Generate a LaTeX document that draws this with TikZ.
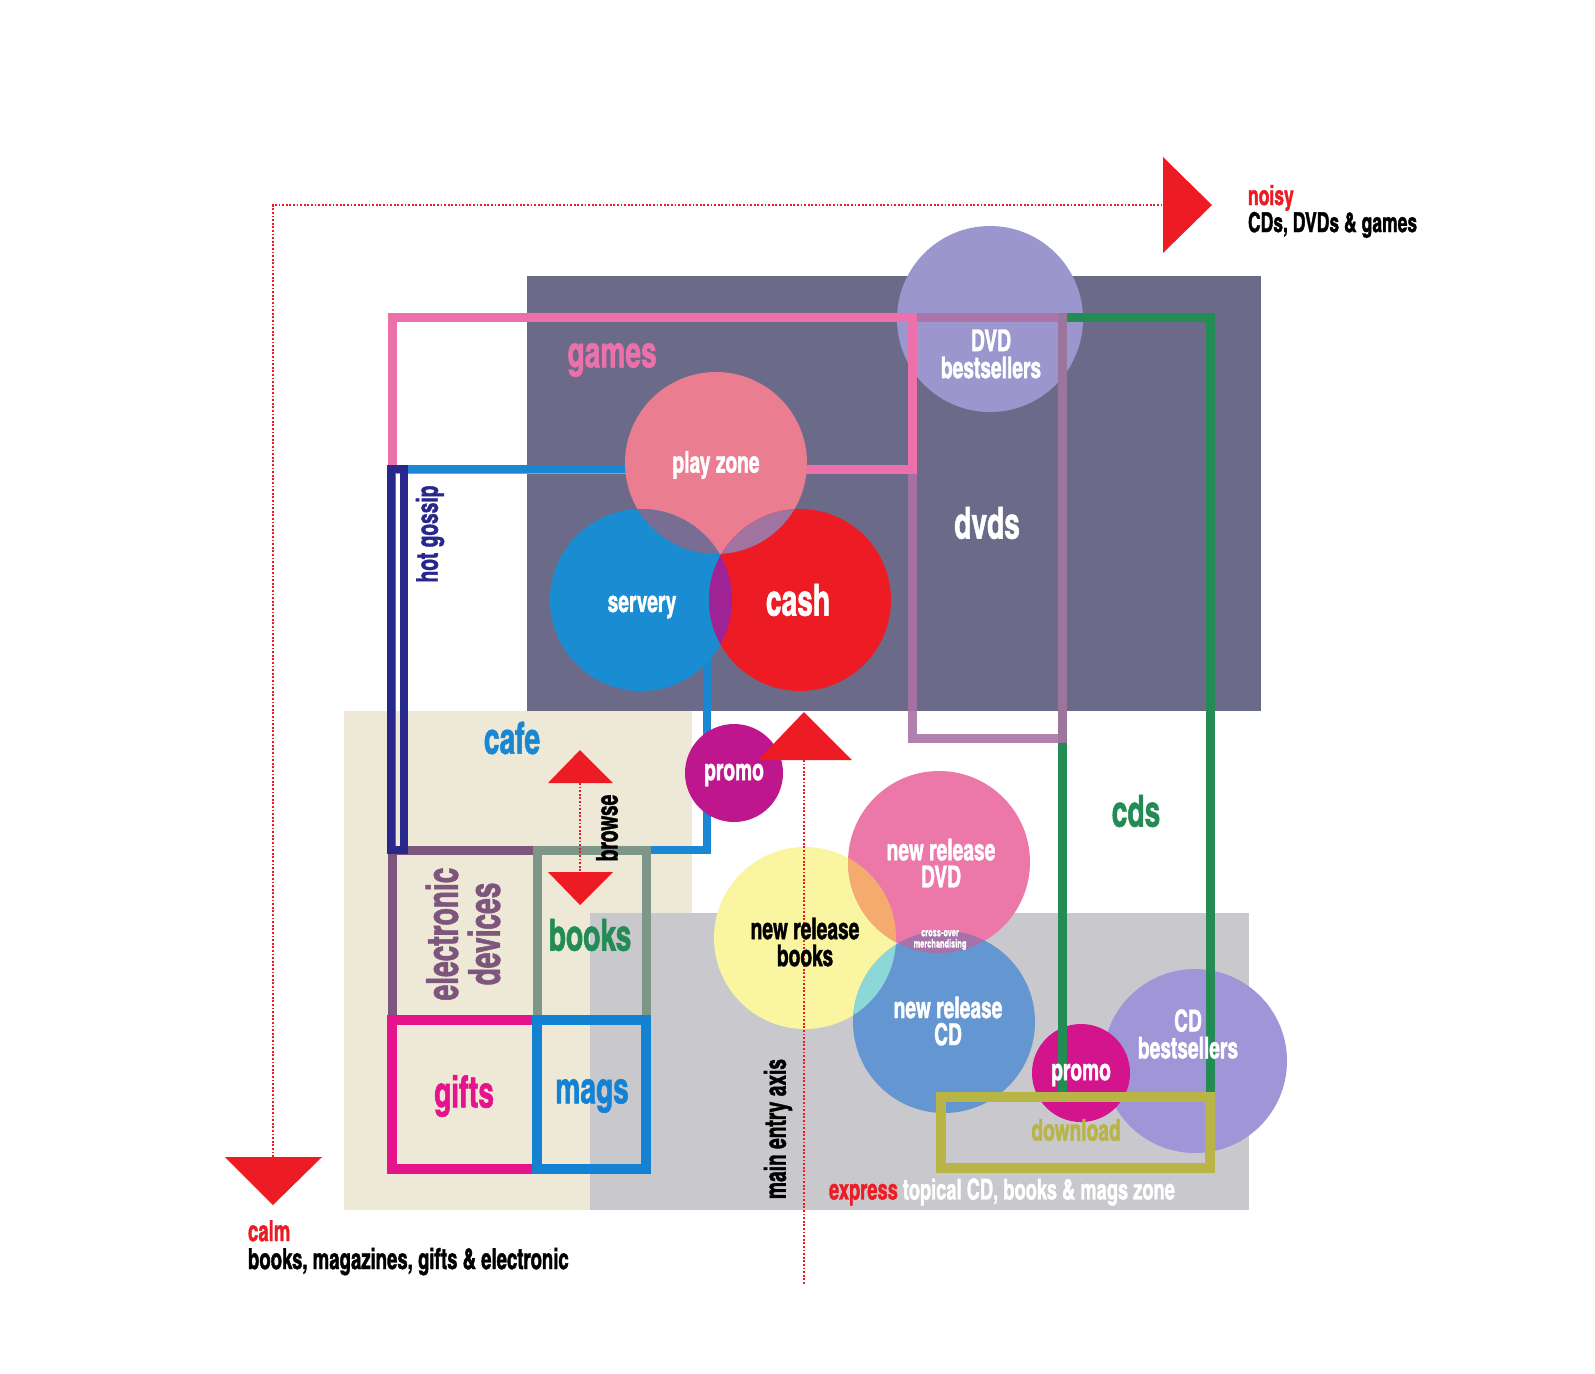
\documentclass[tikz,border=0pt]{standalone}
\usepackage{fontspec}
\newfontfamily\imp[FakeStretch=0.78,FakeBold=1.2]{texgyreheroscn-bold.otf}
\newcommand\fs[2]{\imp\fontsize{#1}{#2}\selectfont}
\definecolor{cDark}{RGB}{107,107,137}
\definecolor{cBeige}{RGB}{237,233,214}
\definecolor{cGray}{RGB}{200,200,205}
\definecolor{cLav}{RGB}{155,150,205}
\definecolor{cLavB}{RGB}{160,150,215}
\definecolor{cPinkLine}{RGB}{236,112,170}
\definecolor{cMauve}{RGB}{170,115,165}
\definecolor{cGreen}{RGB}{35,140,85}
\definecolor{cCafe}{RGB}{25,135,210}
\definecolor{cNavy}{RGB}{40,40,140}
\definecolor{cPurp}{RGB}{125,85,125}
\definecolor{cGrayGreen}{RGB}{125,150,135}
\definecolor{cMag}{RGB}{230,20,140}
\definecolor{cMags}{RGB}{20,130,210}
\definecolor{cOlive}{RGB}{185,180,70}
\definecolor{cRed}{RGB}{237,28,36}
\definecolor{cPlay}{RGB}{235,125,145}
\definecolor{cServ}{RGB}{25,140,210}
\definecolor{cPromoA}{RGB}{190,22,140}
\definecolor{cPromoB}{RGB}{212,20,140}
\definecolor{cNrDvd}{RGB}{236,120,170}
\definecolor{cNrBook}{RGB}{250,245,160}
\definecolor{cNrCd}{RGB}{100,150,210}
\definecolor{cOvPS}{RGB}{120,110,148}
\definecolor{cOvPC}{RGB}{160,115,160}
\definecolor{cOvSC}{RGB}{160,35,150}
\definecolor{cOvBD}{RGB}{245,170,110}
\definecolor{cOvBC}{RGB}{140,215,215}
\definecolor{cOvDC}{RGB}{165,115,170}
\definecolor{cOvBDC}{RGB}{200,160,160}
\begin{document}
\begin{tikzpicture}[x=0.5pt,y=-0.5pt,
  every node/.style={inner sep=0pt,outer sep=0pt},
  zone/.style={line width=4.5pt},
  circ/.style={circle,minimum size=#1pt,draw=none},
  lab/.style={font={\fs{15}{13.5}},text=white,align=center},
  big/.style={font={\fs{22}{21}},align=center},
  dots/.style={cRed,line width=0.9pt,dash pattern=on 0.9pt off 0.9pt},
  tri/.style={fill=cRed}]
\useasboundingbox[fill=white] (0,0) rectangle (1595,1373);

% zones
\fill[cDark] (527,276) rectangle (1261,711);
\fill[cBeige] (344,711) rectangle (692,1210);
\fill[cGray] (590,913) rectangle (1249,1210);

% DVD bestsellers circle
\node[circ=93,fill=cLav] (dvdb) at (990,319) {};

% bottom circles
\node[circ=91,fill=cNrBook] (nrb) at (805,938) {};
\node[circ=91,fill=cNrDvd] (nrd) at (939,862) {};
\node[circ=91,fill=cNrCd] (nrc) at (944,1022) {};
\begin{scope}\clip (nrb.center) circle (91); \fill[cOvBD] (nrd.center) circle (91);\end{scope}
\begin{scope}\clip (nrb.center) circle (91); \fill[cOvBC] (nrc.center) circle (91);\end{scope}
\begin{scope}\clip (nrd.center) circle (91); \fill[cOvDC] (nrc.center) circle (91);\end{scope}
\begin{scope}\clip (nrb.center) circle (91); \clip (nrd.center) circle (91); \fill[cOvBDC] (nrc.center) circle (91);\end{scope}
\node[circ=92,fill=cLavB] (cdb) at (1195,1061) {};
\node[circ=49,fill=cPromoB] (promoB) at (1081,1073) {};

% outline zones
\draw[zone,cGreen] (1062,317) rectangle (1210,1097);
\draw[zone,cMauve,opacity=0.9] (912,317) rectangle (1062,738);
\draw[zone,cPinkLine] (392,317) rectangle (912,469);
\draw[zone,cCafe,line width=4pt] (392,469) rectangle (707,850);
\draw[zone,cPurp] (392,850) rectangle (537,1020);
\draw[zone,cGrayGreen] (537,850) rectangle (646,1020);
\draw[cNavy,line width=4.25pt] (391,469) rectangle (404,850);
\draw[zone,cMag,line width=5pt] (392,1020) rectangle (537,1169);
\draw[zone,cMags,line width=5pt] (537,1020) rectangle (646,1169);
\draw[zone,cOlive,line width=5pt] (941,1097) rectangle (1210,1168);

% top circles
\node[circ=91,fill=cPlay] (play) at (716,463) {};
\node[circ=91,fill=cServ] (serv) at (641,600) {};
\node[circ=91,fill=cRed] (cash) at (800,600) {};
\begin{scope}\clip (play.center) circle (91); \fill[cOvPS] (serv.center) circle (91);\end{scope}
\begin{scope}\clip (play.center) circle (91); \fill[cOvPC] (cash.center) circle (91);\end{scope}
\begin{scope}\clip (serv.center) circle (91); \fill[cOvSC] (cash.center) circle (91);\end{scope}
\node[circ=49,fill=cPromoA] (promoA) at (734,773) {};

% arrows and axes
\fill[tri] (1163,157) -- (1212,205) -- (1163,253) -- cycle;
\coordinate (hbase) at (1163,205);
\fill[tri] (225,1157) -- (322,1157) -- (273,1205) -- cycle;
\coordinate (vbase) at (273,1157);
\draw[dots] (vbase) |- (hbase);
\fill[tri] (758,760) -- (804,712) -- (852,760) -- cycle;
\coordinate (mbase) at (804,760);
\coordinate (mend) at (804,1284);
\draw[dots] (mbase) -- (mend);
\fill[tri] (548,783) -- (580,750) -- (613,783) -- cycle;
\fill[tri] (548,872) -- (580,905) -- (613,872) -- cycle;
\coordinate (bup) at (580,783);
\coordinate (bdn) at (580,872);
\draw[dots] (bup) -- (bdn);

% labels
\node[big,text=cPinkLine] (tgames) at (612,360) {games};
\node[lab] (tplay) at (716,465) {play zone};
\node[lab] (tserv) at (642,607) {servery};
\node[big,text=white] (tcash) at (798,600) {cash};
\node[lab] (tdvdb) at (991,354) {DVD\\bestsellers};
\node[big,text=white] (tdvds) at (987,523) {dvds};
\node[lab,text=cNavy,rotate=90] (tgossip) at (430,534) {hot gossip};
\node[big,text=cCafe] (tcafe) at (512,738) {cafe};
\node[lab] (tpromoA) at (734,775) {promo};
\node[lab,text=black,rotate=90] (tbrowse) at (607,828) {browse};
\node[big,text=cPurp,rotate=90] (telec) at (463,934) {electronic\\devices};
\node[big,text=cGreen] (tbooks) at (590,935) {books};
\node[big,text=cMag] (tgifts) at (464,1096) {gifts};
\node[big,text=cMags] (tmags) at (592,1096) {mags};
\node[lab,text=black] (tnrb) at (805,942) {new release\\books};
\node[lab] (tnrd) at (941,863) {new release\\DVD};
\node[font={\fs{5.8}{5.6}},text=white,align=center] (tcross) at (940,940) {cross-over\\merchandising};
\node[lab] (tnrc) at (948,1021) {new release\\CD};
\node[lab] (tpromoB) at (1081,1075) {promo};
\node[lab] (tcdb) at (1188,1034) {CD\\bestsellers};
\node[lab,text=cOlive] (tdown) at (1076,1130) {download};
\node[big,text=cGreen] (tcds) at (1136,811) {cds};
\node[lab,text=black,rotate=90] (taxis) at (778,1129) {main entry axis};
\node[lab,font={\fs{14.3}{14}},anchor=west] (texpress) at (829,1192) {\textcolor{cRed}{express} topical CD, books \& mags zone};
\node[font={\fs{13.7}{14}},text=cRed,anchor=base west] (tnoisy) at (1248,205) {noisy};
\node[font={\fs{13.7}{14}},text=black,anchor=base west] (tnoisy2) at (1248,232) {CDs, DVDs \& games};
\node[font={\fs{14.5}{14}},text=cRed,anchor=base west] (tcalm) at (248,1241) {calm};
\node[font={\fs{14.5}{14}},text=black,anchor=base west] (tcalm2) at (248,1269) {books, magazines, gifts \& electronic};
\end{tikzpicture}
\end{document}
